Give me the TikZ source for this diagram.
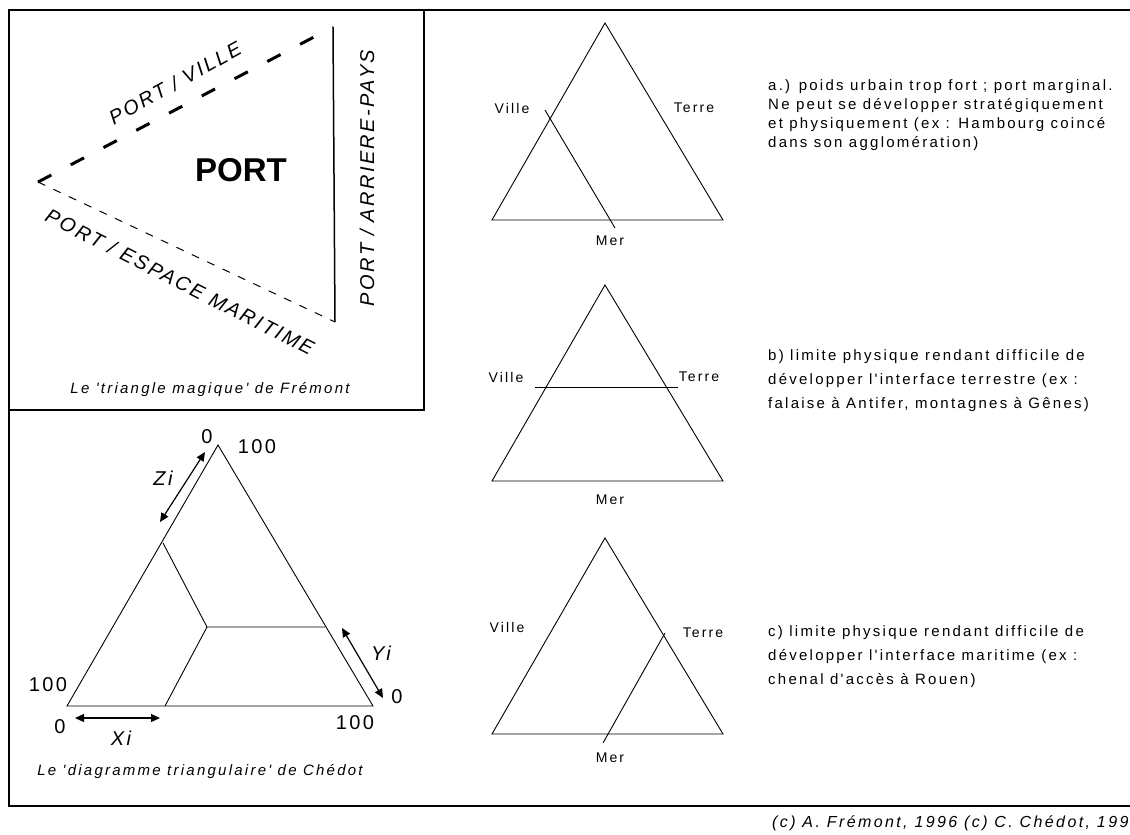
\documentclass[tikz,border=0pt]{standalone}
\usepackage{fontspec}
\setmainfont{Liberation Sans}
\newfontfamily\lsf[LetterSpace=15]{Liberation Sans}
\newfontfamily\lsfw[LetterSpace=12]{Liberation Sans}
\usetikzlibrary{arrows.meta}
\tikzset{
  frame/.style={line width=2pt, line cap=rect},
  tri/.style={line width=0.9pt},
  thickdash/.style={line width=3pt, dash pattern=on 15pt off 22pt},
  thindash/.style={line width=1pt, dash pattern=on 8pt off 9pt},
  big/.style={font=\lsfw\itshape\fontsize{20}{20}\selectfont, inner sep=0pt},
  num/.style={font=\lsfw\fontsize{20}{20}\selectfont, inner sep=0pt},
  captxt/.style={font=\lsf\itshape\fontsize{15}{15}\selectfont, inner sep=0pt},
  lbl/.style={font=\lsf\fontsize{14}{14}\selectfont, inner sep=0pt},
  txta/.style={font=\lsf\fontsize{15}{19}\selectfont, inner sep=0pt, anchor=north west, align=left},
  txtb/.style={font=\lsf\fontsize{15}{24}\selectfont, inner sep=0pt, anchor=north west, align=left},
  dbl/.style={line width=1.2pt, {Triangle[length=9pt,width=8pt]}-{Triangle[length=9pt,width=8pt]}}
}
\begin{document}
\begin{tikzpicture}[x=1pt,y=-1pt]
\useasboundingbox (0,0) rectangle (1130,835);
\fill[white] (0,0) rectangle (1130,835);
% frames
\draw[frame] (1131,10) -- (9,10) -- (9,806) -- (1131,806);
\draw[frame] (9,410) -- (424,410) -- (424,10);

% ---- Fremont triangle ----
\coordinate (F1) at (38,182);
\coordinate (F2) at (333,27);
\coordinate (F3) at (335,322);
\draw[thickdash] (F1) -- (F2);
\draw[line width=1.5pt] (F2) -- (F3);
\draw[thindash] (F1) -- (F3);
\node[font=\bfseries\fontsize{33}{33}\selectfont, inner sep=0pt] (port) at (241,170) {PORT};
\node[big, rotate=29] (pv) at (175,83) {PORT / VILLE};
\node[big, rotate=-27] (pe) at (180,282) {PORT / ESPACE MARITIME};
\node[big, rotate=90] (pa) at (367,178) {PORT / ARRIERE-PAYS};
\node[captxt] (capF) at (210,390) {Le 'triangle magique' de Frémont};

% ---- Chedot diagram ----
\coordinate (CA) at (218,445);
\coordinate (CL) at (67,706);
\coordinate (CR) at (373,706);
\coordinate (CE) at (163,543);
\coordinate (CC) at (207,627);
\coordinate (CF) at (325,627);
\coordinate (CB) at (165,706);
\draw[tri] (CA) -- (CL) -- (CR) -- cycle;
\draw[tri] (CE) -- (CC) -- (CF);
\draw[tri] (CC) -- (CB);
\node[num] (z0) at (207,437) {0};
\node[num] (z100) at (257,447) {100};
\node[num] (x100) at (48,685) {100};
\node[num] (x0) at (60,727) {0};
\node[num] (y100) at (355,723) {100};
\node[num] (y0) at (397,697) {0};
\coordinate (Za) at (205,452);
\coordinate (Zb) at (160,522);
\coordinate (Ya) at (342,628);
\coordinate (Yb) at (383,698);
\coordinate (Xa) at (75,718);
\coordinate (Xb) at (160,718);
\draw[dbl] (Za) -- (Zb);
\draw[dbl] (Ya) -- (Yb);
\draw[dbl] (Xa) -- (Xb);
\node[big] (zi) at (163,478) {Zi};
\node[big] (yi) at (381,653) {Yi};
\node[big] (xi) at (121,738) {Xi};
\node[captxt] (capC) at (200,772) {Le 'diagramme triangulaire' de Chédot};

% ---- triangle a ----
\coordinate (aT) at (605,23);
\coordinate (aL) at (492,220);
\coordinate (aR) at (723,220);
\coordinate (a1) at (545,110);
\coordinate (a2) at (615,228);
\draw[tri] (aT) -- (aL) -- (aR) -- cycle;
\draw[tri] (a1) -- (a2);
\node[lbl] (aV) at (512,108) {Ville};
\node[lbl] (aTe) at (694,108) {Terre};
\node[lbl] (aM) at (610,241) {Mer};
\node[txta] (ta) at (768,79) {a.) poids urbain trop fort ; port marginal.\\Ne peut se développer stratégiquement\\et physiquement (ex : Hambourg coincé\\dans son agglomération)};

% ---- triangle b ----
\coordinate (bT) at (605,285);
\coordinate (bL) at (492,481);
\coordinate (bR) at (723,481);
\coordinate (b1) at (535,387);
\coordinate (b2) at (678,387);
\draw[tri] (bT) -- (bL) -- (bR) -- cycle;
\draw[tri] (b1) -- (b2);
\node[lbl] (bV) at (506,377) {Ville};
\node[lbl] (bTe) at (699,377) {Terre};
\node[lbl] (bM) at (610,500) {Mer};
\node[txtb] (tb) at (768,349) {b) limite physique rendant difficile de\\développer l'interface terrestre (ex :\\falaise à Antifer, montagnes à Gênes)};

% ---- triangle c ----
\coordinate (cT) at (605,538);
\coordinate (cL) at (492,734);
\coordinate (cR) at (723,734);
\coordinate (c1) at (665,633);
\coordinate (c2) at (603,743);
\draw[tri] (cT) -- (cL) -- (cR) -- cycle;
\draw[tri] (c1) -- (c2);
\node[lbl] (cV) at (507,627) {Ville};
\node[lbl] (cTe) at (703,633) {Terre};
\node[lbl] (cM) at (610,758) {Mer};
\node[txtb] (tc) at (768,625) {c) limite physique rendant difficile de\\développer l'interface maritime (ex :\\chenal d'accès à Rouen)};

% credit
\node[captxt, font=\lsf\itshape\fontsize{16}{16}\selectfont, anchor=west] (credit) at (772,823) {(c) A. Frémont, 1996 (c) C. Chédot, 1999};
\end{tikzpicture}
\end{document}
